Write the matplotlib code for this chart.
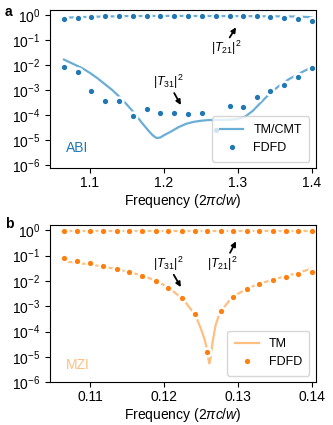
import matplotlib
matplotlib.use('Agg')
import matplotlib.pyplot as plt

plt.rcParams['font.family'] = ['Liberation Sans', 'DejaVu Sans']
plt.rcParams['mathtext.fontset'] = 'custom'
plt.rcParams['mathtext.rm'] = 'Liberation Sans'
plt.rcParams['mathtext.it'] = 'Liberation Sans:italic'
plt.rcParams['font.size'] = 10
plt.rcParams['xtick.major.pad'] = 2.5
plt.rcParams['axes.labelpad'] = 1.5

# --- panel a: ABI ---
freq_a = [1.065, 1.084, 1.102, 1.121, 1.140, 1.158, 1.177, 1.195, 1.214, 1.233,
          1.251, 1.270, 1.289, 1.307, 1.326, 1.344, 1.363, 1.382, 1.400]
t21_fdfd_a = [0.74, 0.81, 0.86, 0.91, 0.94, 0.94, 0.97, 0.94, 0.94, 0.94,
              0.94, 0.94, 0.94, 0.94, 0.91, 0.86, 0.81, 0.70, 0.60]
t31_fdfd_a = [8.7e-3, 5.2e-3, 9.7e-4, 3.6e-4, 3.6e-4, 9.5e-5, 1.74e-4, 1.2e-4, 1.3e-4, 1.15e-4,
              1.2e-4, 2.7e-5, 2.4e-4, 2.1e-4, 5.6e-4, 9.7e-4, 1.7e-3, 3.4e-3, 7.9e-3]

freq_line_a = [1.065, 1.08, 1.09, 1.10, 1.11, 1.12, 1.13, 1.14, 1.15, 1.16, 1.17, 1.18,
               1.185, 1.19, 1.195, 1.20, 1.21, 1.22, 1.23, 1.24, 1.25, 1.26, 1.27, 1.28,
               1.29, 1.30, 1.31, 1.32, 1.33, 1.34, 1.35, 1.36, 1.37, 1.38, 1.39, 1.40]
t31_tm_a = [1.7e-2, 1.05e-2, 7.6e-3, 5.0e-3, 3.1e-3, 1.8e-3, 1.05e-3, 5.5e-4, 2.7e-4, 1.25e-4,
            5.2e-5, 2.3e-5, 1.6e-5, 1.25e-5, 1.3e-5, 1.6e-5, 2.3e-5, 3.4e-5, 4.6e-5, 5.5e-5,
            6.1e-5, 6.5e-5, 6.6e-5, 6.6e-5, 6.7e-5, 7.2e-5, 9.0e-5, 1.5e-4, 3.0e-4, 6.0e-4,
            1.1e-3, 1.9e-3, 2.9e-3, 4.2e-3, 6.0e-3, 8.3e-3]
freq_t21_a = [1.065, 1.1, 1.15, 1.2, 1.25, 1.3, 1.35, 1.38, 1.40]
t21_tm_a = [0.80, 0.87, 0.93, 0.95, 0.94, 0.93, 0.91, 0.89, 0.84]

# --- panel b: MZI ---
freq_b = [0.1065, 0.1083, 0.1100, 0.1118, 0.1136, 0.1153, 0.1171, 0.1189, 0.1206, 0.1224,
          0.1242, 0.1259, 0.1277, 0.1294, 0.1312, 0.1329, 0.1347, 0.1365, 0.1382, 0.1400]
t21_fdfd_b = [0.93] * 20
t31_fdfd_b = [7.8e-2, 6.3e-2, 5.1e-2, 3.8e-2, 3.0e-2, 2.2e-2, 1.56e-2, 9.6e-3, 5.2e-3, 2.1e-3,
              4.9e-4, 1.5e-5, 6.6e-4, 2.3e-3, 4.6e-3, 7.5e-3, 1.07e-2, 1.42e-2, 1.87e-2, 2.24e-2]

freq_line_b = [0.1065, 0.108, 0.110, 0.112, 0.114, 0.116, 0.118, 0.119, 0.120, 0.121, 0.122,
               0.123, 0.124, 0.1245, 0.125, 0.1255, 0.1258, 0.126, 0.12615, 0.1263, 0.1266,
               0.127, 0.1275, 0.128, 0.129, 0.130, 0.131, 0.132, 0.133, 0.134, 0.135, 0.136,
               0.137, 0.138, 0.139, 0.140]
t31_tm_b = [6.0e-2, 5.3e-2, 4.5e-2, 3.6e-2, 2.8e-2, 2.0e-2, 1.3e-2, 9.8e-3, 6.9e-3, 4.5e-3, 2.6e-3,
            1.35e-3, 5.5e-4, 3.0e-4, 1.3e-4, 5.0e-5, 2.2e-5, 9.0e-6, 5.5e-6, 9.0e-6, 4.0e-5,
            1.8e-4, 4.8e-4, 8.0e-4, 1.9e-3, 3.1e-3, 4.5e-3, 6.1e-3, 7.8e-3, 9.7e-3, 1.19e-2, 1.43e-2,
            1.7e-2, 2.05e-2, 2.5e-2, 3.1e-2]
freq_t21_b = [0.1065, 0.12, 0.13, 0.14]
t21_tm_b = [0.95, 0.95, 0.95, 0.95]

blue_dot = '#1f77b4'
blue_line = '#6aaed6'
orange_dot = '#ff7f0e'
orange_line = '#ffbf80'

fig = plt.figure(figsize=(3.33, 4.25), dpi=100)
ax1 = fig.add_axes([0.150, 0.605, 0.798, 0.371])
ax2 = fig.add_axes([0.150, 0.101, 0.798, 0.369])

dot_kw = dict(ls='none', marker='o', ms=5.6, mec='white', mew=1.8)
arrow_kw = dict(arrowstyle='-|>', color='black', lw=1.3, mutation_scale=7,
                shrinkA=0, shrinkB=0)

# panel a
ax1.plot(freq_t21_a, t21_tm_a, color=blue_line, lw=1.6)
ax1.plot(freq_line_a, t31_tm_a, color=blue_line, lw=1.6, label='TM/CMT')
ax1.plot(freq_a, t21_fdfd_a, color=blue_dot, **dot_kw)
ax1.plot(freq_a, t31_fdfd_a, color=blue_dot, label='FDFD', **dot_kw)
ax1.set_yscale('log')
ax1.set_ylim(8e-7, 1.6)
ax1.set_xlim(1.046, 1.4053)
ax1.set_xticks([1.1, 1.2, 1.3, 1.4])
ax1.set_yticks([1e0, 1e-1, 1e-2, 1e-3, 1e-4, 1e-5, 1e-6])
ax1.set_xlabel(r'Frequency ($2\pi c/w$)')
ax1.annotate('', xy=(1.2976, 0.33), xytext=(1.289, 0.13), arrowprops=arrow_kw)
ax1.text(1.284, 0.049, r'$|T_{21}|^2$', ha='center', va='center', fontsize=9)
ax1.annotate('', xy=(1.223, 2.6e-4), xytext=(1.214, 7.8e-4), arrowprops=arrow_kw)
ax1.text(1.2056, 2.1e-3, r'$|T_{31}|^2$', ha='center', va='center', fontsize=9)
ax1.text(0.06, 0.127, 'ABI', transform=ax1.transAxes, color=blue_dot, fontsize=10,
         ha='left', va='center')
ax1.legend(loc='lower right', fontsize=9, handlelength=1.9, borderpad=0.6)
fig.text(0.015, 0.972, 'a', fontweight='bold', fontsize=10, va='center')

# panel b
ax2.plot(freq_t21_b, t21_tm_b, color=orange_line, lw=1.6)
ax2.plot(freq_line_b, t31_tm_b, color=orange_line, lw=1.6, label='TM')
ax2.plot(freq_b, t21_fdfd_b, color=orange_dot, **dot_kw)
ax2.plot(freq_b, t31_fdfd_b, color=orange_dot, label='FDFD', **dot_kw)
ax2.set_yscale('log')
ax2.set_ylim(1e-6, 1.6)
ax2.set_xlim(0.1046, 0.14053)
ax2.set_xticks([0.11, 0.12, 0.13, 0.14])
ax2.set_yticks([1e0, 1e-1, 1e-2, 1e-3, 1e-4, 1e-5, 1e-6])
ax2.set_xlabel(r'Frequency ($2\pi c/w$)')
ax2.annotate('', xy=(0.12976, 0.37), xytext=(0.12895, 0.13), arrowprops=arrow_kw)
ax2.text(0.12796, 0.048, r'$|T_{21}|^2$', ha='center', va='center', fontsize=9)
ax2.annotate('', xy=(0.1223, 5.7e-3), xytext=(0.12134, 1.76e-2), arrowprops=arrow_kw)
ax2.text(0.1206, 0.048, r'$|T_{31}|^2$', ha='center', va='center', fontsize=9)
ax2.text(0.06, 0.11, 'MZI', transform=ax2.transAxes, color=orange_line, fontsize=10,
         ha='left', va='center')
ax2.legend(loc='lower right', fontsize=9, handlelength=1.9, borderpad=0.6)
fig.text(0.015, 0.472, 'b', fontweight='bold', fontsize=10, va='center')

fig.savefig('out.png', dpi=100)
